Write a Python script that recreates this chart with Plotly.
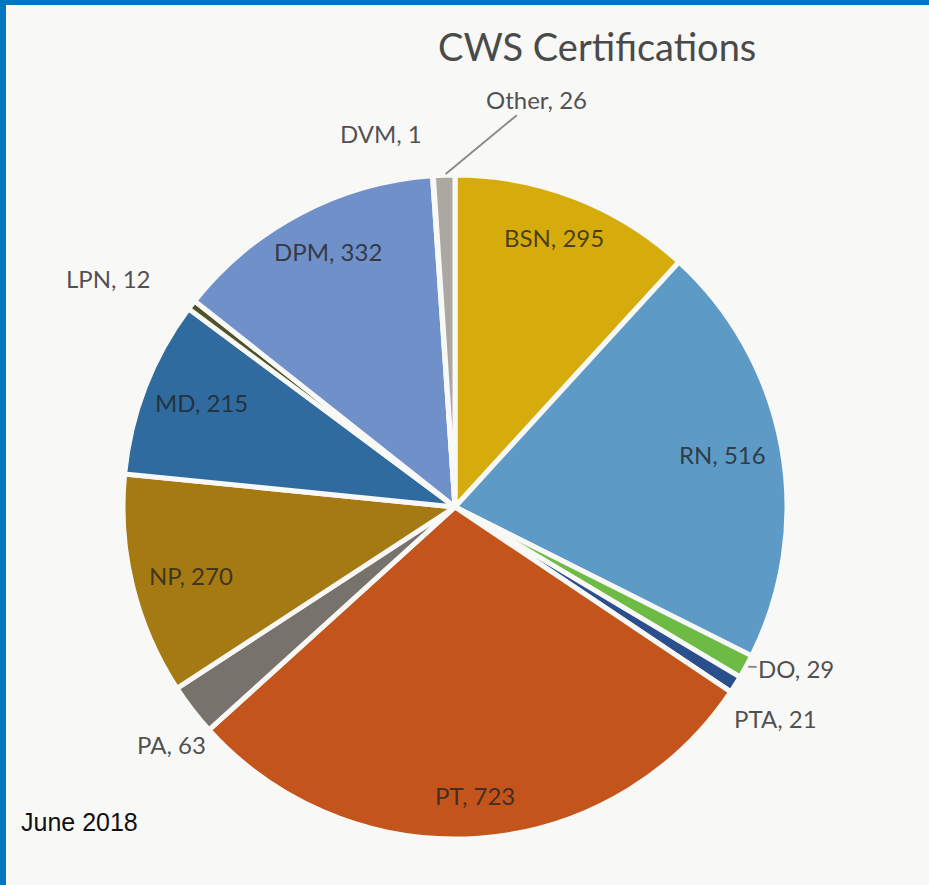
import math
import plotly.graph_objects as go

# ---- data ----
categories = ["BSN", "RN", "DO", "PTA", "PT", "PA", "NP", "MD", "LPN", "DPM", "DVM", "Other"]
counts = [295, 516, 29, 21, 723, 63, 270, 215, 12, 332, 1, 26]
slice_colors = ["#D6AC0C", "#5D9AC6", "#6DBB45", "#2B4E8C", "#C3541C", "#77726C",
                "#A67A12", "#2F6B9E", "#4D5327", "#7090C9", "#8A8A8A", "#ABA8A2"]
title_text = "CWS Certifications"
footer_text = "June 2018"

# ---- geometry (pixels) ----
W, H = 929, 885
CX, CY, R = 455, 507, 332
BG = "#F8F8F6"
BLUE = "#0077BD"

fig = go.Figure()
fig.add_trace(go.Pie(
    labels=categories,
    values=counts,
    sort=False,
    direction="clockwise",
    rotation=0,
    textinfo="none",
    hoverinfo="label+value",
    marker=dict(colors=slice_colors, line=dict(color=BG, width=5)),
    domain=dict(x=[(CX - R) / W, (CX + R) / W], y=[1 - (CY + R) / H, 1 - (CY - R) / H]),
    showlegend=False,
))

def px_to_paper(x, y):
    return x / W, 1 - y / H

total = sum(counts)
inside = {"BSN", "RN", "PT", "NP", "MD", "DPM"}
# label placement style: (radius factor, xanchor, yanchor, xshift, yshift)
outside_style = {
    "PTA": (1.03, "left", "top", -12, -12),
    "PA": (1.03, "right", "top", 24, -12),
    "LPN": (1.07, "right", "bottom", -20, -4),
    "DVM": (1.03, "right", "bottom", -8, 16),
}
arrow_style = {  # (ax, ay) offsets of the label from slice edge
    "Other": (92, -76),
    "DO": (50, 2),
}
label_font = dict(family="Lato, 'Open Sans', sans-serif", size=24, color="rgba(35,35,35,0.8)")

annotations = []
cum = 0
for cat, v in zip(categories, counts):
    mid = (cum + v / 2) / total * 2 * math.pi
    cum += v
    s, c = math.sin(mid), math.cos(mid)
    text = f"{cat}, {v}"
    if cat in inside:
        x, y = px_to_paper(CX + 0.82 * R * s, CY - 0.87 * R * c)
        annotations.append(dict(x=x, y=y, xref="paper", yref="paper", text=text,
                                xanchor="center", yanchor="middle",
                                showarrow=False, font=label_font))
    elif cat in arrow_style:
        ax, ay = arrow_style[cat]
        x, y = px_to_paper(CX + 1.0 * R * s, CY - 1.0 * R * c)
        annotations.append(dict(x=x, y=y, xref="paper", yref="paper", text=text,
                                showarrow=True, arrowhead=0, arrowwidth=2, arrowcolor="#8C8C8C",
                                ax=ax, ay=ay, standoff=2, font=label_font))
    else:
        rf, xa, ya, xs, ys = outside_style[cat]
        x, y = px_to_paper(CX + rf * R * s, CY - rf * R * c)
        annotations.append(dict(x=x, y=y, xref="paper", yref="paper", text=text,
                                showarrow=False, xanchor=xa, yanchor=ya,
                                xshift=xs, yshift=ys, font=label_font))

# title and footer
tx, ty = px_to_paper(597, 46)
annotations.append(dict(x=tx, y=ty, xref="paper", yref="paper", text=title_text, showarrow=False,
                        xanchor="center", yanchor="middle",
                        font=dict(family="Lato, 'Open Sans', sans-serif", size=38, color="#4A4A4A")))
fx, fy = px_to_paper(19, 822)
annotations.append(dict(x=fx, y=fy, xref="paper", yref="paper", text=footer_text, showarrow=False,
                        xanchor="left", yanchor="middle",
                        font=dict(family="'Liberation Sans', Arial, sans-serif",
                                  size=25, color="#111111")))

fig.update_layout(
    width=W, height=H,
    margin=dict(l=0, r=0, t=0, b=0),
    paper_bgcolor=BG,
    plot_bgcolor=BG,
    annotations=annotations,
    shapes=[
        dict(type="rect", xref="paper", yref="paper", x0=0, x1=6 / W, y0=0, y1=1,
             fillcolor=BLUE, line=dict(width=0)),
        dict(type="rect", xref="paper", yref="paper", x0=0, x1=1, y0=1 - 5 / H, y1=1,
             fillcolor=BLUE, line=dict(width=0)),
    ],
)

fig.write_html("out.html")
